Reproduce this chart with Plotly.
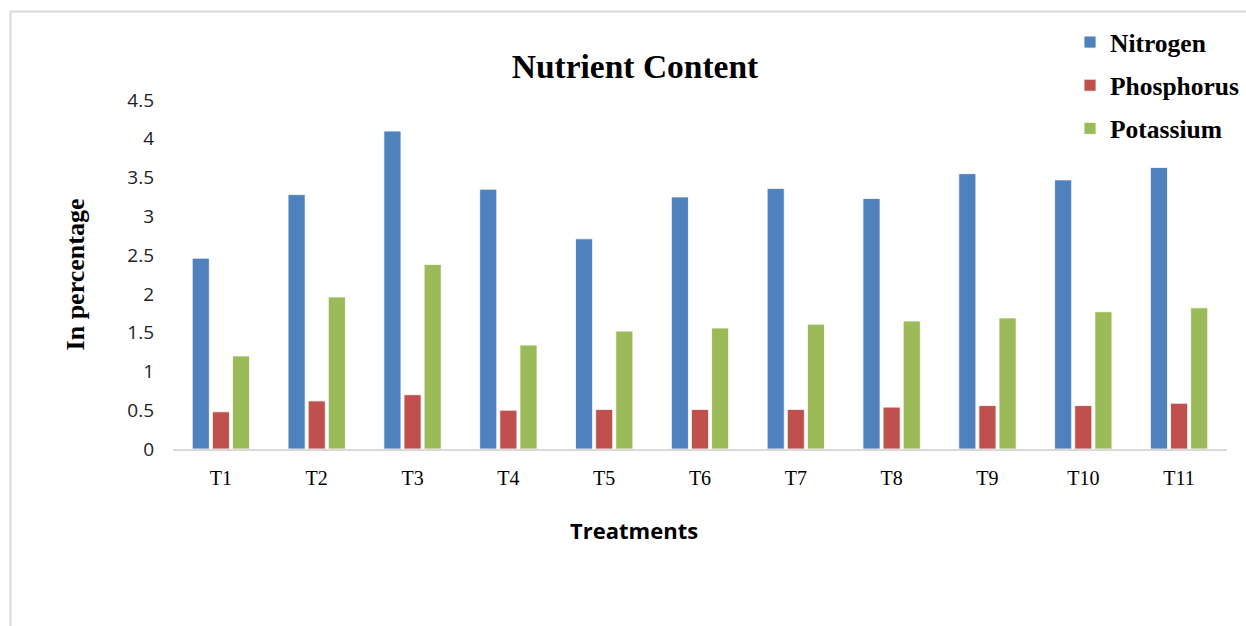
import plotly.graph_objects as go

# Nutrient content (%) per treatment
treatments = ["T1", "T2", "T3", "T4", "T5", "T6", "T7", "T8", "T9", "T10", "T11"]
nitrogen = [2.46, 3.28, 4.10, 3.35, 2.71, 3.25, 3.36, 3.23, 3.55, 3.47, 3.63]
phosphorus = [0.48, 0.62, 0.70, 0.50, 0.51, 0.51, 0.51, 0.54, 0.56, 0.56, 0.59]
potassium = [1.20, 1.96, 2.38, 1.34, 1.52, 1.56, 1.61, 1.65, 1.69, 1.77, 1.82]

W, H = 1246, 626
L, R, T, B = 173, 1227, 100, 449  # plot-area pixel bounds

SERIF = "Liberation Serif"
SANS = "Open Sans"

series = [
    ("Nitrogen", nitrogen, "#4F81BD"),
    ("Phosphorus", phosphorus, "#C0504D"),
    ("Potassium", potassium, "#9BBB59"),
]

fig = go.Figure()
for i, (name, vals, color) in enumerate(series):
    fig.add_trace(go.Bar(
        x=treatments, y=vals, name=name, legendgroup=f"g{i}",
        marker=dict(color=color, line=dict(color="rgba(255,255,255,0.8)", width=1)),
    ))


def px_x(p):
    return (p - L) / (R - L)


def px_y(p):
    return (B - p) / (B - T)


fig.update_layout(
    width=W, height=H,
    margin=dict(l=L, r=W - R, t=T, b=H - B, autoexpand=False),
    paper_bgcolor="white", plot_bgcolor="white",
    barmode="group", bargap=0.37, bargroupgap=0.15,
    title=dict(
        text="Nutrient Content", x=635 / W, xref="container", xanchor="center",
        y=1 - 66 / H, yref="container", yanchor="middle",
        font=dict(family=SERIF, size=33.5, color="#000000", weight="bold"),
    ),
    legend=dict(
        x=px_x(1070), xanchor="left", y=px_y(19), yanchor="top",
        font=dict(family=SERIF, size=25.5, color="#000000", weight="bold"),
        tracegroupgap=7, bgcolor="rgba(0,0,0,0)",
    ),
    xaxis=dict(
        showgrid=False, zeroline=False, showline=True, linecolor="#D9D9D9", linewidth=2,
        ticks="", ticklabelstandoff=10,
        tickfont=dict(family=SERIF, size=20, color="#000000"),
    ),
    yaxis=dict(
        range=[0, 4.5], dtick=0.5, tick0=0, showgrid=False, zeroline=False, showline=False,
        ticks="", ticklabelstandoff=18,
        tickfont=dict(family=SANS, size=19, color="#222222"),
        title=dict(text="In percentage", standoff=35,
                   font=dict(family=SERIF, size=26, color="#000000", weight="bold")),
    ),
    annotations=[dict(
        text="Treatments", xref="paper", yref="paper", x=px_x(634), y=px_y(530),
        xanchor="center", yanchor="middle", showarrow=False,
        font=dict(family=SANS, size=22, color="#000000", weight="bold"),
    )],
    shapes=[dict(
        type="rect", xref="paper", yref="paper", layer="below",
        x0=px_x(10.5), x1=px_x(1300), y0=px_y(700), y1=px_y(11.5),
        line=dict(color="#D9D9D9", width=2), fillcolor="rgba(0,0,0,0)",
    )],
)

fig.write_html("out.html")
